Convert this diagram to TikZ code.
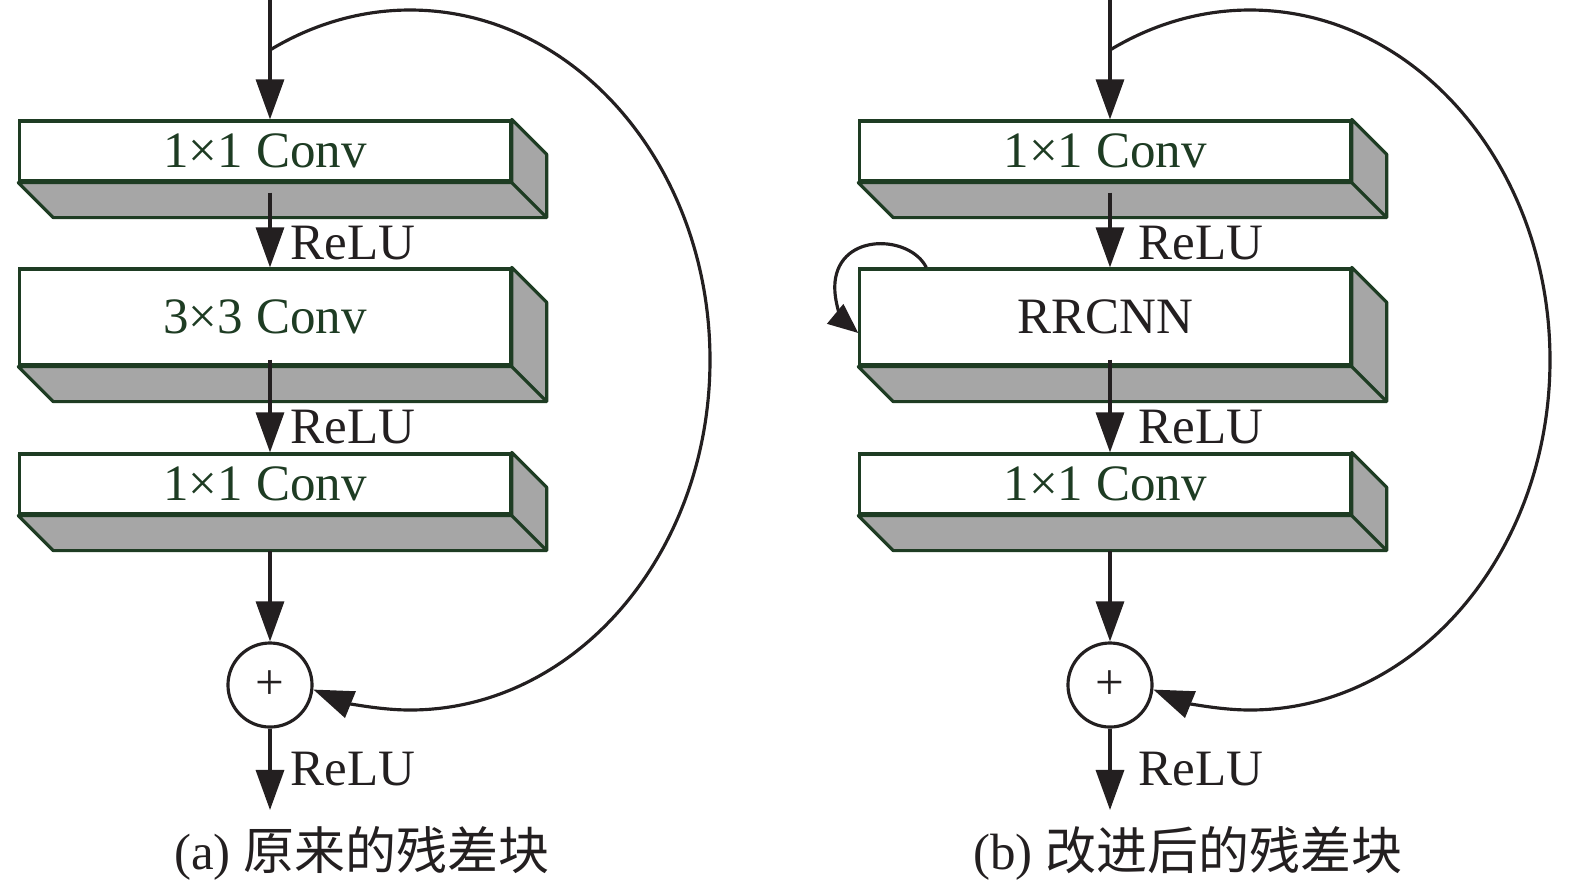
\documentclass[tikz,border=0pt]{standalone}
\usepackage{fontspec}
\usepackage{xcolor}
\usepackage{tikz}
\usetikzlibrary{arrows.meta,calc}
\setmainfont{Liberation Serif}
\newfontfamily\cjk{Noto Sans CJK SC}
\definecolor{boxgreen}{RGB}{30,60,35}
\definecolor{facegray}{RGB}{166,166,166}
\definecolor{inkblack}{RGB}{35,31,32}

\begin{document}
\begin{tikzpicture}[x=0.01cm,y=-0.01cm,
    font=\fontsize{14.5}{17}\selectfont,
    front/.style={draw=boxgreen,line width=0.9pt,fill=white,text=boxgreen,
      minimum width=4.9cm,inner sep=0pt},
    depthface/.style={draw=boxgreen,line width=0.9pt,fill=facegray,line join=round},
    flow/.style={draw=inkblack,line width=0.9pt,-{Triangle[length=4mm,width=2.8mm]}},
    sumnode/.style={circle,draw=inkblack,line width=0.9pt,minimum size=0.84cm,
      inner sep=0pt,text=inkblack},
    lbl/.style={anchor=west,text=inkblack,inner sep=0pt}]
    \useasboundingbox (0,0) rectangle (1575,890);

    % (a) original block
    \node[front,minimum height=0.6cm] (a1) at (265,151) {1×1 Conv};
    \node[front,minimum height=0.96cm] (a2) at (265,317) {3×3 Conv};
    \node[front,minimum height=0.6cm] (a3) at (265,484) {1×1 Conv};
    \node[sumnode] (asum) at (270,685) {+};
    \coordinate (ain) at (270,0);
    \coordinate (atap) at (270,50);
    \coordinate (aout) at (270,810);

    % (b) improved block
    \node[front,minimum height=0.6cm] (b1) at (1105,151) {1×1 Conv};
    \node[front,minimum height=0.96cm,text=inkblack] (b2) at (1105,317) {RRCNN};
    \node[front,minimum height=0.6cm] (b3) at (1105,484) {1×1 Conv};
    \node[sumnode] (bsum) at (1110,685) {+};
    \coordinate (bin) at (1110,0);
    \coordinate (btap) at (1110,50);
    \coordinate (bout) at (1110,810);

    \foreach \b in {a1,a2,a3,b1,b2,b3} {
      \draw[depthface] (\b.south west) -- ($(\b.south west)+(35,35)$)
        -- ($(\b.south east)+(35,35)$) -- ($(\b.north east)+(35,35)$)
        -- (\b.north east) -- (\b.south east) -- cycle;
      \draw[depthface,fill=none] (\b.south east) -- ($(\b.south east)+(35,35)$);
    }

    % main path (a)
    \draw[flow] (ain) -- (a1.north -| ain);
    \draw[flow] ($(a1.south -| ain)+(0,10)$) -- (a2.north -| ain);
    \draw[flow] ($(a2.south -| ain)+(0,-7)$) -- (a3.north -| ain);
    \draw[flow] ($(a3.south -| ain)+(0,35)$) -- (asum.north);
    \draw[flow] (asum.south) -- (aout);
    \draw[flow] (atap) .. controls (313,24) and (361,10) .. (410,10)
      .. controls (576,10) and (710,167) .. (710,360)
      .. controls (710,553) and (576,710) .. (410,710)
      .. controls (377,710) and (344,702) .. (asum.-6);

    % main path (b)
    \draw[flow] (bin) -- (b1.north -| bin);
    \draw[flow] ($(b1.south -| bin)+(0,10)$) -- (b2.north -| bin);
    \draw[flow] ($(b2.south -| bin)+(0,-7)$) -- (b3.north -| bin);
    \draw[flow] ($(b3.south -| bin)+(0,35)$) -- (bsum.north);
    \draw[flow] (bsum.south) -- (bout);
    \draw[flow] (btap) .. controls (1153,24) and (1201,10) .. (1250,10)
      .. controls (1416,10) and (1550,167) .. (1550,360)
      .. controls (1550,553) and (1416,710) .. (1250,710)
      .. controls (1217,710) and (1184,702) .. (bsum.-6);
    % recurrent loop on RRCNN
    \draw[flow,-{Triangle[length=3mm,width=2.5mm]}] ($(b2.north west)+(68,0)$)
      .. controls (910,235) and (840,232) .. (835,282)
      .. controls (833,305) and (845,322) .. ($(b2.west)+(0,16)$);

    % labels
    \node[lbl] (arelu1) at (290,243) {ReLU};
    \node[lbl] (arelu2) at (290,427) {ReLU};
    \node[lbl] (arelu3) at (290,769) {ReLU};
    \node[lbl] (brelu1) at (1138,243) {ReLU};
    \node[lbl] (brelu2) at (1138,427) {ReLU};
    \node[lbl] (brelu3) at (1138,769) {ReLU};
    \node[text=inkblack] (acap) at (362,853) {(a) {\cjk 原来的残差块}};
    \node[text=inkblack] (bcap) at (1188,853) {(b) {\cjk 改进后的残差块}};
  \end{tikzpicture}
\end{document}
